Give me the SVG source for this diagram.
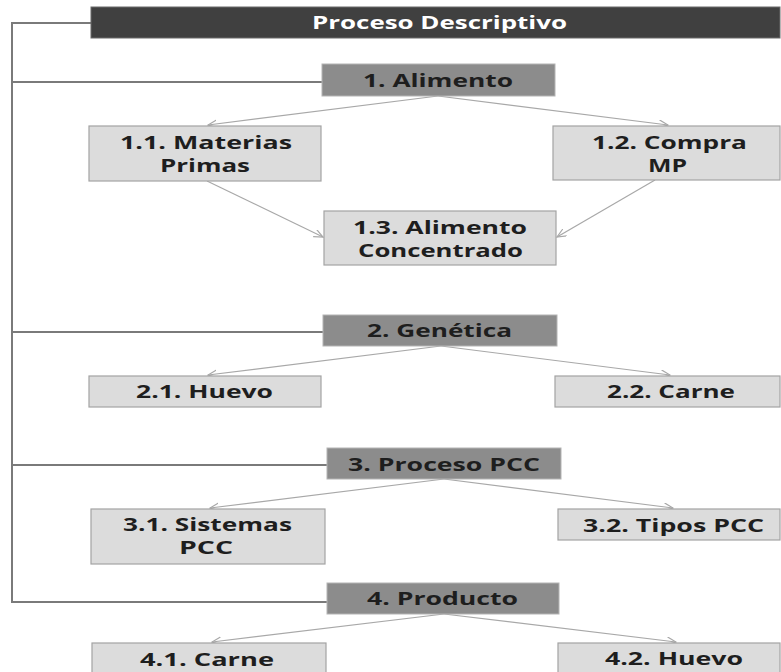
<svg xmlns="http://www.w3.org/2000/svg" width="781" height="672" viewBox="0 0 781 672">
<style>
text{font-family:"Open Sans","Liberation Sans",sans-serif;font-weight:700;text-anchor:middle;font-size:18px;fill:#1e1e1e}
.title rect{fill:#404040;stroke:#6a6a6a;stroke-width:1}
.title text{fill:#ffffff;font-size:17px}
.l1 rect{fill:#8c8c8c;stroke:#b4b4b4;stroke-width:1}
.l2 rect{fill:#dcdcdc;stroke:#a3a3a3;stroke-width:1.2}
.bracket{fill:none;stroke:#7a7a7a;stroke-width:2}
.arrow{fill:none;stroke:#a8a8a8;stroke-width:1.2;marker-end:url(#ah)}
</style>
<defs>
<marker id="ah" markerUnits="userSpaceOnUse" markerWidth="10" markerHeight="10" refX="9" refY="4" orient="auto">
<path d="M0,0 L9,4 L0,8" fill="none" stroke="#a8a8a8" stroke-width="1.2"/>
</marker>
</defs>
<rect width="781" height="672" fill="#ffffff"/>
<g id="connectors">
<path class="bracket" d="M91,23 H12 V602 H327"/>
<path class="bracket" d="M12,82 H322"/>
<path class="bracket" d="M12,332 H323"/>
<path class="bracket" d="M12,465 H327"/>
<line class="arrow" x1="438" y1="96" x2="208" y2="125"/>
<line class="arrow" x1="438" y1="96" x2="668" y2="125"/>
<line class="arrow" x1="207" y1="181" x2="323" y2="237"/>
<line class="arrow" x1="655" y1="180" x2="557" y2="237"/>
<line class="arrow" x1="441" y1="346" x2="208" y2="375"/>
<line class="arrow" x1="441" y1="346" x2="670" y2="375"/>
<line class="arrow" x1="444" y1="479" x2="210" y2="508"/>
<line class="arrow" x1="444" y1="479" x2="673" y2="508"/>
<line class="arrow" x1="444" y1="614" x2="212" y2="642"/>
<line class="arrow" x1="444" y1="614" x2="676" y2="642"/>
</g>
<g id="n0" class="title"><rect x="91" y="7" width="689" height="31"/><text x="439.5" y="29" textLength="255" lengthAdjust="spacingAndGlyphs">Proceso Descriptivo</text></g>
<g id="n1" class="l1"><rect x="322" y="64" width="233" height="32"/><text x="438" y="87" textLength="150" lengthAdjust="spacingAndGlyphs">1. Alimento</text></g>
<g id="n11" class="l2"><rect x="89" y="126" width="232" height="55"/><text x="206" y="149" textLength="172" lengthAdjust="spacingAndGlyphs">1.1. Materias</text><text x="205" y="172" textLength="90" lengthAdjust="spacingAndGlyphs">Primas</text></g>
<g id="n12" class="l2"><rect x="553" y="126" width="227" height="54"/><text x="669.5" y="149" textLength="155" lengthAdjust="spacingAndGlyphs">1.2. Compra</text><text x="667.5" y="172" textLength="39" lengthAdjust="spacingAndGlyphs">MP</text></g>
<g id="n13" class="l2"><rect x="324" y="211" width="232" height="54"/><text x="440" y="234" textLength="174" lengthAdjust="spacingAndGlyphs">1.3. Alimento</text><text x="440.5" y="257" textLength="165" lengthAdjust="spacingAndGlyphs">Concentrado</text></g>
<g id="n2" class="l1"><rect x="323" y="315" width="234" height="31"/><text x="439.5" y="337" textLength="145" lengthAdjust="spacingAndGlyphs">2. Genética</text></g>
<g id="n21" class="l2"><rect x="89" y="376" width="232" height="31"/><text x="204.5" y="398" textLength="137" lengthAdjust="spacingAndGlyphs">2.1. Huevo</text></g>
<g id="n22" class="l2"><rect x="555" y="376" width="225" height="31"/><text x="671" y="398" textLength="128" lengthAdjust="spacingAndGlyphs">2.2. Carne</text></g>
<g id="n3" class="l1"><rect x="327" y="448" width="234" height="31"/><text x="444" y="471" textLength="192" lengthAdjust="spacingAndGlyphs">3. Proceso PCC</text></g>
<g id="n31" class="l2"><rect x="91" y="509" width="234" height="55"/><text x="207.5" y="531" textLength="169" lengthAdjust="spacingAndGlyphs">3.1. Sistemas</text><text x="206" y="554" textLength="54" lengthAdjust="spacingAndGlyphs">PCC</text></g>
<g id="n32" class="l2"><rect x="558" y="509" width="222" height="31"/><text x="673.5" y="532" textLength="181" lengthAdjust="spacingAndGlyphs">3.2. Tipos PCC</text></g>
<g id="n4" class="l1"><rect x="327" y="583" width="232" height="31"/><text x="442.5" y="605" textLength="151" lengthAdjust="spacingAndGlyphs">4. Producto</text></g>
<g id="n41" class="l2"><rect x="92" y="643" width="234" height="36"/><text x="207" y="666" textLength="134" lengthAdjust="spacingAndGlyphs">4.1. Carne</text></g>
<g id="n42" class="l2"><rect x="558" y="643" width="222" height="36"/><text x="674" y="665" textLength="138" lengthAdjust="spacingAndGlyphs">4.2. Huevo</text></g>
</svg>
